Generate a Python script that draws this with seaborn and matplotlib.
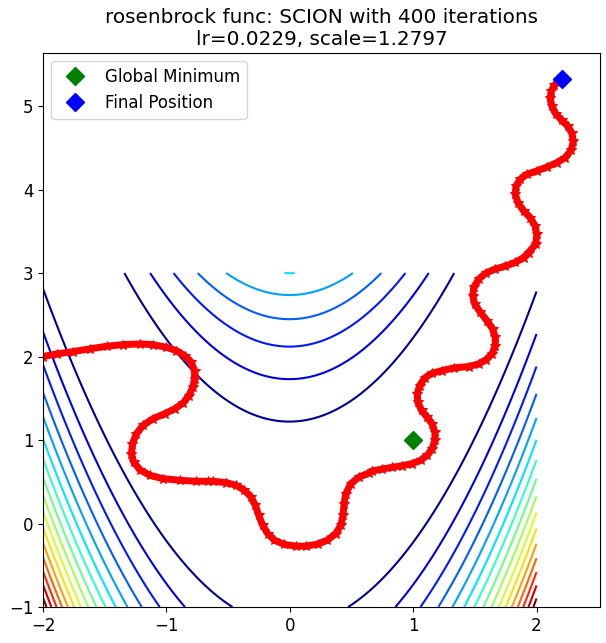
import numpy as np
import matplotlib
matplotlib.use("Agg")
import matplotlib.pyplot as plt
import seaborn as sns

# optimiser path (x, y), start -> end
path_x = [-2.000, -1.889, -1.755, -1.620, -1.485, -1.351, -1.216, -1.109, -1.000, -0.920,
          -0.853, -0.798, -0.772, -0.772, -0.785, -0.818, -0.866, -0.933, -1.014, -1.109,
          -1.189, -1.243, -1.275, -1.283, -1.265, -1.216, -1.135, -1.028, -0.893, -0.758,
          -0.664, -0.624, -0.516, -0.435, -0.368, -0.314, -0.279, -0.252, -0.220, -0.179,
          -0.125, -0.044, 0.050, 0.131, 0.225, 0.305, 0.373, 0.414, 0.432, 0.440,
          0.454, 0.495, 0.562, 0.642, 0.669, 0.750, 0.831, 0.912, 0.992, 1.060,
          1.114, 1.154, 1.176, 1.176, 1.154, 1.114, 1.068, 1.038, 1.033, 1.052,
          1.095, 1.154, 1.235, 1.329, 1.451, 1.531, 1.590, 1.639, 1.666, 1.666,
          1.644, 1.598, 1.545, 1.499, 1.483, 1.491, 1.531, 1.590, 1.666, 1.747,
          1.828, 1.895, 1.935, 1.994, 2.002, 1.989, 1.949, 1.895, 1.849, 1.828,
          1.833, 1.868, 1.922, 2.002, 2.083, 2.164, 2.232, 2.280, 2.299, 2.285,
          2.253, 2.204, 2.156, 2.124, 2.111, 2.119, 2.145, 2.178, 2.210]
path_y = [2.000, 2.032, 2.059, 2.092, 2.123, 2.143, 2.151, 2.143, 2.111, 2.071,
          2.011, 1.931, 1.832, 1.733, 1.633, 1.533, 1.441, 1.374, 1.315, 1.255,
          1.175, 1.076, 0.956, 0.837, 0.736, 0.645, 0.577, 0.538, 0.518, 0.506,
          0.506, 0.506, 0.490, 0.458, 0.398, 0.318, 0.219, 0.099, -0.020, -0.120,
          -0.200, -0.251, -0.271, -0.271, -0.247, -0.200, -0.120, -0.020, 0.099, 0.239,
          0.359, 0.478, 0.557, 0.605, 0.629, 0.653, 0.673, 0.693, 0.717, 0.757,
          0.816, 0.896, 0.996, 1.095, 1.195, 1.274, 1.354, 1.453, 1.554, 1.653,
          1.745, 1.800, 1.832, 1.864, 1.880, 1.912, 1.960, 2.032, 2.131, 2.230,
          2.331, 2.430, 2.529, 2.629, 2.729, 2.828, 2.928, 3.000, 3.048, 3.084,
          3.127, 3.186, 3.246, 3.346, 3.466, 3.565, 3.664, 3.745, 3.844, 3.944,
          4.043, 4.123, 4.183, 4.223, 4.270, 4.322, 4.382, 4.470, 4.581, 4.680,
          4.760, 4.829, 4.907, 5.000, 5.099, 5.179, 5.250, 5.290, 5.320]

global_min = (1.0, 1.0)
final_pos = (2.21, 5.32)

# contour levels every 150
contour_levels = np.arange(150, 2401, 150)


def rosenbrock(x, y):
    return (1 - x) ** 2 + 100 * (y - x ** 2) ** 2


fig = plt.figure(figsize=(6.06, 6.43), dpi=100)
ax = fig.add_axes([0.071, 0.056, 0.919, 0.8616])

gx = np.linspace(-2, 2, 400)
gy = np.linspace(-1, 3, 400)
X, Y = np.meshgrid(gx, gy)
Z = rosenbrock(X, Y)
ax.contour(X, Y, Z, levels=contour_levels, cmap="jet", linewidths=1.5,
           vmin=100, vmax=2400)

sns.lineplot(x=path_x, y=path_y, sort=False, estimator=None, ax=ax,
             color="red", linewidth=5, marker="*", markersize=7,
             markeredgecolor="red", markerfacecolor="red")

ax.plot(global_min[0], global_min[1], "D", color="green", markersize=9.5,
        label="Global Minimum", linestyle="none")
ax.plot(final_pos[0], final_pos[1], "D", color="blue", markersize=9.5,
        label="Final Position", linestyle="none")

ax.set_title("rosenbrock func: SCION with 400 iterations\nlr=0.0229, scale=1.2797",
             fontsize=14.4)
ax.tick_params(labelsize=12)
ax.legend(loc="upper left", fontsize=12)

fig.savefig("out.png", dpi=100)
